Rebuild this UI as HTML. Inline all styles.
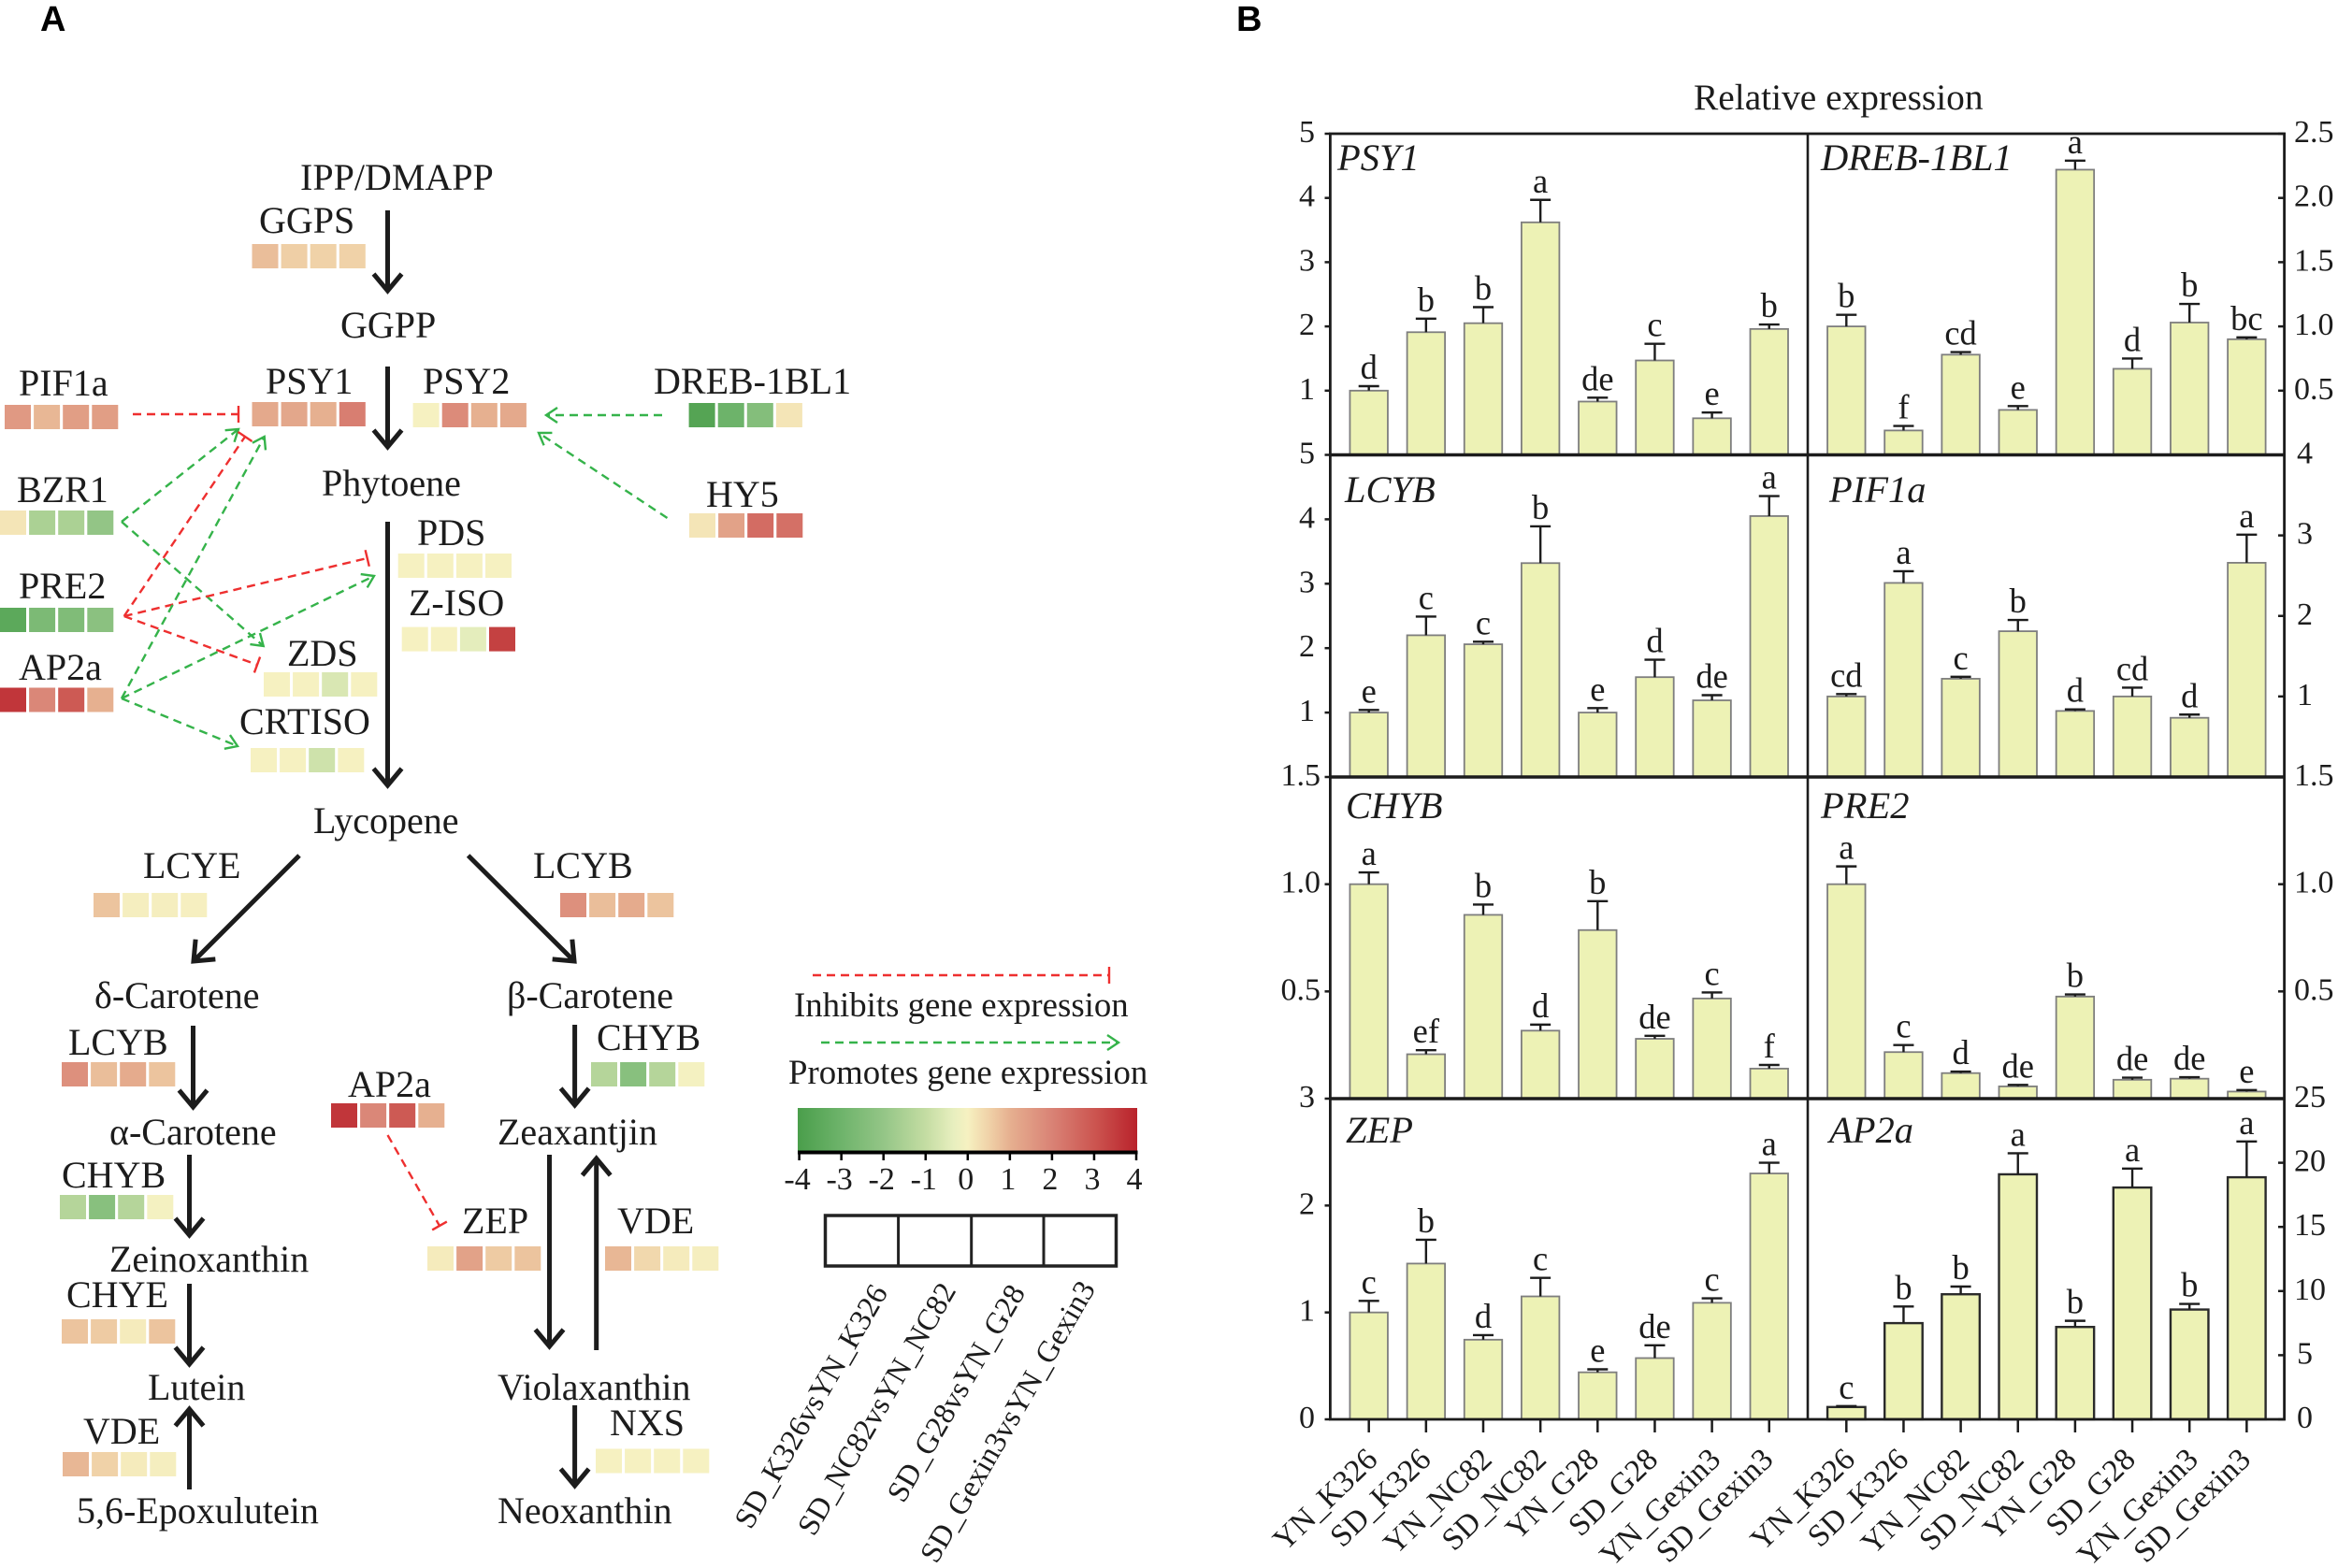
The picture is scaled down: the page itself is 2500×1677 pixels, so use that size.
<!DOCTYPE html>
<html lang="en">
<head>
<meta charset="utf-8">
<title>Carotenoid pathway and relative expression</title>
<style>
html,body{margin:0;padding:0;background:#fff;}
svg{display:block;}
text{font-family:"Liberation Serif","Times New Roman",serif;fill:#1c1c1c;}
.lbl{font-size:40px;}
.leg{font-size:36.8px;}
.num{font-size:34px;}
.rot{font-size:32.5px;}
.hd{font-family:"Liberation Sans",Arial,sans-serif;font-weight:bold;font-size:38px;fill:#000;}
.flow{stroke:#1c1c1c;stroke-width:5;fill:none;marker-end:url(#chev);}
.gd{stroke:#35b34a;stroke-width:2.4;stroke-dasharray:9 6;fill:none;marker-end:url(#ga);}
.rd{stroke:#ee2f2f;stroke-width:2.4;stroke-dasharray:9 6;fill:none;marker-end:url(#rt);}
</style>
</head>
<body>
<svg id="fig" xmlns="http://www.w3.org/2000/svg" width="2500" height="1677" viewBox="0 0 2500 1677">
<defs>
<marker id="chev" markerUnits="userSpaceOnUse" markerWidth="50" markerHeight="50" refX="25" refY="25" orient="auto" viewBox="0 0 50 50"><path d="M7,10 L25,25 L7,40" fill="none" stroke="#1c1c1c" stroke-width="5"/></marker>
<marker id="ga" markerUnits="userSpaceOnUse" markerWidth="30" markerHeight="30" refX="15" refY="15" orient="auto" viewBox="0 0 30 30"><path d="M3,7 L15,15 L3,23" fill="none" stroke="#35b34a" stroke-width="2.4"/></marker>
<marker id="rt" markerUnits="userSpaceOnUse" markerWidth="30" markerHeight="30" refX="15" refY="15" orient="auto" viewBox="0 0 30 30"><path d="M15,6 L15,24" fill="none" stroke="#ee2f2f" stroke-width="2.4"/></marker>
<linearGradient id="cbar" x1="0" y1="0" x2="1" y2="0">
<stop offset="0" stop-color="#4a9e4b"/><stop offset=".125" stop-color="#6db36a"/><stop offset=".25" stop-color="#93c586"/><stop offset=".375" stop-color="#c3dca2"/><stop offset=".46" stop-color="#e8efbf"/><stop offset=".5" stop-color="#f6f1c1"/><stop offset=".5625" stop-color="#f0d2a8"/><stop offset=".625" stop-color="#e6b090"/><stop offset=".75" stop-color="#d98275"/><stop offset=".875" stop-color="#cc5550"/><stop offset="1" stop-color="#b9222b"/>
</linearGradient>
</defs>

<text class="hd" x="43" y="33">A</text>
<text class="hd" x="1322" y="33">B</text>

<g>
<text class="lbl" x="321" y="203">IPP/DMAPP</text>
<text class="lbl" x="277" y="249">GGPS</text>
<text class="lbl" x="364" y="361">GGPP</text>
<text class="lbl" x="284" y="421">PSY1</text>
<text class="lbl" x="452" y="421">PSY2</text>
<text class="lbl" x="20" y="423">PIF1a</text>
<text class="lbl" x="699" y="421">DREB-1BL1</text>
<text class="lbl" x="18" y="537">BZR1</text>
<text class="lbl" x="755" y="542">HY5</text>
<text class="lbl" x="344" y="530">Phytoene</text>
<text class="lbl" x="446" y="583">PDS</text>
<text class="lbl" x="437" y="658">Z-ISO</text>
<text class="lbl" x="20" y="640">PRE2</text>
<text class="lbl" x="307" y="712">ZDS</text>
<text class="lbl" x="20" y="727">AP2a</text>
<text class="lbl" x="256" y="785">CRTISO</text>
<text class="lbl" x="335" y="891">Lycopene</text>
<text class="lbl" x="153" y="939">LCYE</text>
<text class="lbl" x="570" y="939">LCYB</text>
<text class="lbl" x="101" y="1078">δ-Carotene</text>
<text class="lbl" x="542" y="1078">β-Carotene</text>
<text class="lbl" x="73" y="1128">LCYB</text>
<text class="lbl" x="638" y="1123">CHYB</text>
<text class="lbl" x="372" y="1173">AP2a</text>
<text class="lbl" x="117" y="1224">α-Carotene</text>
<text class="lbl" x="532" y="1224">Zeaxantjin</text>
<text class="lbl" x="66" y="1270">CHYB</text>
<text class="lbl" x="494" y="1319">ZEP</text>
<text class="lbl" x="660" y="1319">VDE</text>
<text class="lbl" x="117" y="1360">Zeinoxanthin</text>
<text class="lbl" x="71" y="1398">CHYE</text>
<text class="lbl" x="158" y="1497">Lutein</text>
<text class="lbl" x="532" y="1497">Violaxanthin</text>
<text class="lbl" x="89" y="1544">VDE</text>
<text class="lbl" x="652" y="1535">NXS</text>
<text class="lbl" x="82" y="1629">5,6-Epoxulutein</text>
<text class="lbl" x="532" y="1629">Neoxanthin</text>
</g>

<g>
<line class="flow" x1="414.5" y1="225" x2="414.5" y2="311"/>
<line class="flow" x1="414.5" y1="392" x2="414.5" y2="478"/>
<line class="flow" x1="414.5" y1="558" x2="414.5" y2="840"/>
<line class="flow" x1="320" y1="915" x2="207" y2="1028"/>
<line class="flow" x1="500.6" y1="915" x2="614" y2="1028"/>
<line class="flow" x1="206.5" y1="1097" x2="206.5" y2="1184"/>
<line class="flow" x1="614.6" y1="1096" x2="614.6" y2="1182"/>
<line class="flow" x1="202.5" y1="1235" x2="202.5" y2="1321"/>
<line class="flow" x1="202.5" y1="1373" x2="202.5" y2="1459"/>
<line class="flow" x1="202.5" y1="1593" x2="202.5" y2="1507"/>
<line class="flow" x1="587.5" y1="1235" x2="587.5" y2="1440"/>
<line class="flow" x1="637.7" y1="1444" x2="637.7" y2="1239"/>
<line class="flow" x1="614.6" y1="1503" x2="614.6" y2="1589"/>
</g>

<g>
<line class="rd" x1="142" y1="443" x2="255" y2="443"/>
<line class="gd" x1="708" y1="444" x2="584" y2="444"/>
<line class="gd" x1="713.5" y1="554" x2="576" y2="463"/>
<line class="gd" x1="130" y1="558" x2="255" y2="459"/>
<line class="gd" x1="130" y1="558" x2="281.7" y2="691"/>
<line class="rd" x1="132.7" y1="659" x2="262" y2="467"/>
<line class="rd" x1="132.7" y1="659" x2="392.7" y2="597"/>
<line class="rd" x1="132.7" y1="659" x2="275" y2="711"/>
<line class="gd" x1="130" y1="747" x2="282.7" y2="467"/>
<line class="gd" x1="130" y1="747" x2="400" y2="616"/>
<line class="gd" x1="130" y1="747" x2="254" y2="798"/>
<line class="rd" x1="414.5" y1="1214" x2="470" y2="1311"/>
</g>

<g id="heat-strips"></g>

<g>
<line class="rd" x1="869" y1="1043" x2="1186" y2="1043"/>
<text class="leg" x="849" y="1087">Inhibits gene expression</text>
<line class="gd" x1="878" y1="1115" x2="1196" y2="1115"/>
<text class="leg" x="843" y="1159">Promotes gene expression</text>
<rect x="853" y="1185" width="363" height="47" fill="url(#cbar)"/>
<g id="color-axis"></g>
<g>
<rect x="882.5" y="1300" width="311" height="54" fill="none" stroke="#222" stroke-width="3.5"/>
<line x1="960.6" y1="1300" x2="960.6" y2="1354" stroke="#222" stroke-width="3"/>
<line x1="1038.7" y1="1300" x2="1038.7" y2="1354" stroke="#222" stroke-width="3"/>
<line x1="1116" y1="1300" x2="1116" y2="1354" stroke="#222" stroke-width="3"/>
</g>
<text class="rot" text-anchor="end" transform="translate(950 1382) rotate(-60)">SD_K326vsYN_K326</text>
<text class="rot" text-anchor="end" transform="translate(1023 1380) rotate(-60)">SD_NC82vsYN_NC82</text>
<text class="rot" text-anchor="end" transform="translate(1097 1382) rotate(-60)">SD_G28vsYN_G28</text>
<text class="rot" text-anchor="end" transform="translate(1172 1378) rotate(-60)">SD_Gexin3vsYN_Gexin3</text>
</g>

<text x="1811" y="117" font-size="39.4">Relative expression</text>
<g id="panels"></g>
</svg>

<script>
// ---------- bar chart data ----------
const categories = ["YN_K326","SD_K326","YN_NC82","SD_NC82","YN_G28","SD_G28","YN_Gexin3","SD_Gexin3"];

const psy1Values = [1.0,1.91,2.05,3.62,0.83,1.47,0.57,1.96];
const psy1Errors = [0.07,0.21,0.25,0.35,0.06,0.26,0.09,0.07];
const psy1Letters = ["d","b","b","a","de","c","e","b"];
const psy1Ticks = ["5","4","3","2","1"];

const drebValues = [1.0,0.19,0.78,0.35,2.22,0.67,1.03,0.90];
const drebErrors = [0.09,0.035,0.02,0.03,0.07,0.08,0.145,0.015];
const drebLetters = ["b","f","cd","e","a","d","b","bc"];
const drebTicks = ["2.5","2.0","1.5","1.0","0.5"];

const lcybValues = [1.0,2.2,2.06,3.32,1.0,1.55,1.19,4.05];
const lcybErrors = [0.04,0.29,0.04,0.57,0.07,0.27,0.08,0.31];
const lcybLetters = ["e","c","c","b","e","d","de","a"];
const lcybTicks = ["5","4","3","2","1"];

const pif1aValues = [1.0,2.41,1.22,1.81,0.82,1.0,0.735,2.66];
const pif1aErrors = [0.03,0.145,0.025,0.14,0.02,0.11,0.04,0.35];
const pif1aLetters = ["cd","a","c","b","d","cd","d","a"];
const pif1aTicks = ["4","3","2","1"];

const chybValues = [1.0,0.207,0.857,0.317,0.786,0.279,0.467,0.14];
const chybErrors = [0.055,0.019,0.048,0.028,0.135,0.014,0.028,0.017];
const chybLetters = ["a","ef","b","d","b","de","c","f"];
const chybTicks = ["1.5","1.0","0.5"];

const pre2Values = [1.0,0.217,0.119,0.057,0.476,0.088,0.093,0.033];
const pre2Errors = [0.083,0.033,0.007,0.007,0.01,0.01,0.007,0.007];
const pre2Letters = ["a","c","d","de","b","de","de","e"];
const pre2Ticks = ["1.5","1.0","0.5"];

const zepValues = [1.0,1.457,0.745,1.15,0.44,0.573,1.09,2.3];
const zepErrors = [0.108,0.223,0.043,0.173,0.028,0.12,0.042,0.1];
const zepLetters = ["c","b","d","c","e","de","c","a"];
const zepTicks = ["3","2","1","0"];

const ap2aValues = [0.96,7.5,9.75,19.1,7.2,18.07,8.56,18.87];
const ap2aErrors = [0.07,1.3,0.6,1.64,0.48,1.48,0.44,2.79];
const ap2aLetters = ["c","b","b","a","b","a","b","a"];
const ap2aTicks = ["25","20","15","10","5","0"];

// ---------- heat strip data: log2 fold change per comparison ----------
const colorTicks = [-4,-3,-2,-1,0,1,2,3,4];
const ggpsCells = [0.8,0.55,0.5,0.5];
const psy1Cells = [1.15,1.2,1.0,2.1];
const psy2Cells = [0,1.8,1.0,1.15];
const pif1aCells = [1.5,0.9,1.4,1.4];
const drebCells = [-3.7,-3,-2.4,0.2];
const bzr1Cells = [0.2,-1.5,-1.5,-2];
const hy5Cells = [0.2,1.3,2.5,2.4];
const pdsCells = [0,0,0,0];
const zisoCells = [0,0,-0.4,3.4];
const pre2Cells = [-3.5,-2.6,-2.5,-2.2];
const zdsCells = [0,0,-0.6,0];
const ap2aCells = [3.6,1.9,2.9,1.0];
const crtisoCells = [0,0,-0.8,0];
const lcyeCells = [0.7,0.05,0.05,0.03];
const lcybCells = [1.7,0.8,1.1,0.7];
const chybCells = [-1.3,-2.3,-1.3,-0.05];
const zepCells = [0.1,1.3,0.6,0.7];
const vdeRightCells = [0.9,0.4,0.1,0.05];
const chyeCells = [0.7,0.6,0.1,0.7];
const vdeLeftCells = [0.9,0.5,0.1,0.05];
const nxsCells = [0,0,0,0];

// ---------- layout ----------
const NS = "http://www.w3.org/2000/svg";
function mk(parent, tag, attrs, txt){
  const el = document.createElementNS(NS, tag);
  for (const k in attrs) el.setAttribute(k, attrs[k]);
  if (txt !== undefined) el.textContent = txt;
  parent.appendChild(el);
  return el;
}

const colorStops = [[-4,74,158,75],[-3,109,179,106],[-2,147,197,134],[-1,195,220,162],[-0.32,232,239,191],[0,246,241,193],[0.5,240,210,168],[1,230,176,144],[2,217,130,117],[3,204,85,80],[4,185,34,43]];
function heatColor(v){
  v = Math.max(-4, Math.min(4, v));
  for (let i = 1; i < colorStops.length; i++){
    const a = colorStops[i-1], b = colorStops[i];
    if (v <= b[0]){
      const t = (v - a[0]) / (b[0] - a[0]);
      return "rgb(" + [1,2,3].map(j => Math.round(a[j] + (b[j]-a[j])*t)).join(",") + ")";
    }
  }
  return "#b9222b";
}

const strips = [
  {id:"ggps", x:269.5, y:261, v:ggpsCells},
  {id:"psy1", x:269.5, y:430, v:psy1Cells},
  {id:"psy2", x:441.6, y:431, v:psy2Cells},
  {id:"pif1a", x:5, y:433, v:pif1aCells},
  {id:"dreb", x:736.6, y:431, v:drebCells},
  {id:"bzr1", x:0, y:546, v:bzr1Cells},
  {id:"hy5", x:737, y:549, v:hy5Cells},
  {id:"pds", x:425.7, y:592, v:pdsCells},
  {id:"z-iso", x:429.7, y:670.6, v:zisoCells},
  {id:"pre2", x:0, y:650, v:pre2Cells},
  {id:"zds", x:282, y:719, v:zdsCells},
  {id:"ap2a", x:0, y:735.5, v:ap2aCells},
  {id:"crtiso", x:268, y:800, v:crtisoCells},
  {id:"lcye", x:100, y:955, v:lcyeCells},
  {id:"lcyb-right", x:599, y:955, v:lcybCells},
  {id:"lcyb-left", x:66, y:1136, v:lcybCells},
  {id:"chyb-right", x:632, y:1136, v:chybCells},
  {id:"ap2a-zep", x:354, y:1180, v:ap2aCells},
  {id:"chyb-left", x:64, y:1278, v:chybCells},
  {id:"zep", x:457, y:1333, v:zepCells},
  {id:"vde-right", x:647, y:1333, v:vdeRightCells},
  {id:"chye", x:66, y:1411, v:chyeCells},
  {id:"vde-left", x:67, y:1553, v:vdeLeftCells},
  {id:"nxs", x:637, y:1549.5, v:nxsCells}
];
const stripRoot = document.getElementById("heat-strips");
strips.forEach(s => {
  s.v.forEach((val, i) => {
    const c = mk(stripRoot, "rect", {x:s.x + i*31.1, y:s.y, width:28, height:26, fill:heatColor(val)});
    
    
  });
});

// colour-scale axis
const colorAxis = document.getElementById("color-axis");
function colorX(v){ return 854.6 + (v + 4) / 8 * 360.4; }
const axisLine = mk(colorAxis, "line", {x1:853, x2:1216.5, y1:1232.5, y2:1232.5, stroke:"#000", "stroke-width":4});


colorTicks.forEach(t => {
  const m = mk(colorAxis, "line", {x1:colorX(t), x2:colorX(t), y1:1232, y2:1241, stroke:"#000", "stroke-width":2.5});
  
  
  const l = mk(colorAxis, "text", {x:colorX(t)-2, y:1272, "text-anchor":"middle", "font-size":34}, String(t));
  
  
});

// bar panels
const panels = [
  {id:"psy1", name:"PSY1", nx:1430, ny:182, x0:1422.4, top:143, bottom:486.5, max:5, side:"left", values:psy1Values, errors:psy1Errors, letters:psy1Letters, ticks:psy1Ticks},
  {id:"dreb-1bl1", name:"DREB-1BL1", nx:1947, ny:182, x0:1933, top:143, bottom:486.5, max:2.5, side:"right", values:drebValues, errors:drebErrors, letters:drebLetters, ticks:drebTicks},
  {id:"lcyb", name:"LCYB", nx:1438, ny:537, x0:1422.4, top:486.5, bottom:831, max:5, side:"left", values:lcybValues, errors:lcybErrors, letters:lcybLetters, ticks:lcybTicks},
  {id:"pif1a", name:"PIF1a", nx:1956, ny:537, x0:1933, top:486.5, bottom:831, max:4, side:"right", values:pif1aValues, errors:pif1aErrors, letters:pif1aLetters, ticks:pif1aTicks},
  {id:"chyb", name:"CHYB", nx:1439, ny:875, x0:1422.4, top:831, bottom:1175, max:1.5, side:"left", values:chybValues, errors:chybErrors, letters:chybLetters, ticks:chybTicks},
  {id:"pre2", name:"PRE2", nx:1947, ny:875, x0:1933, top:831, bottom:1175, max:1.5, side:"right", values:pre2Values, errors:pre2Errors, letters:pre2Letters, ticks:pre2Ticks},
  {id:"zep", name:"ZEP", nx:1439, ny:1222, x0:1422.4, top:1175, bottom:1518, max:3, side:"left", values:zepValues, errors:zepErrors, letters:zepLetters, ticks:zepTicks, xlabels:true},
  {id:"ap2a", name:"AP2a", nx:1956, ny:1222, x0:1933, top:1175, bottom:1518, max:25, side:"right", values:ap2aValues, errors:ap2aErrors, letters:ap2aLetters, ticks:ap2aTicks, xlabels:true, dark:true}
];
const step = 61.15, barW = 40.5, firstOffset = 41.3;
const labelNudge = [11,7,11,8,3,5,11,6];
const panelRoot = document.getElementById("panels");

panels.forEach(p => {
  const g = mk(panelRoot, "g", {});
  
  
  const xPos = i => p.x0 + firstOffset + i * step;
  const yPos = v => p.bottom - v / p.max * (p.bottom - p.top);

  p.values.forEach((val, i) => {
    const cx = xPos(i), yTop = yPos(val), yErr = yPos(val + p.errors[i]);
    const bar = mk(g, "rect", {x:cx - barW/2, y:yTop, width:barW, height:p.bottom - yTop, fill:"#edf2b5", stroke:p.dark ? "#2a2a2a" : "#7e7e7e", "stroke-width":p.dark ? 2.4 : 1.8});
    
    
    const eb = mk(g, "path", {d:"M" + cx + "," + yTop + "V" + yErr + "M" + (cx-11) + "," + yErr + "H" + (cx+11), fill:"none", stroke:"#1c1c1c", "stroke-width":2.4});
    
    
    const lt = mk(g, "text", {x:cx, y:yErr - 8, "text-anchor":"middle", "font-size":36.5}, p.letters[i]);
    
    
    if (p.xlabels){
      const tk = mk(g, "line", {x1:cx, x2:cx, y1:p.bottom, y2:p.bottom + 14, stroke:"#1c1c1c", "stroke-width":2.5});
      
      
      const xl = mk(g, "text", {"text-anchor":"end", "font-size":33.5, transform:"translate(" + (cx + labelNudge[i]) + " 1563) rotate(-44)"}, categories[i]);
      
      
    }
  });

  const nm = mk(g, "text", {x:p.nx, y:p.ny, "font-size":40.5, "font-style":"italic"}, p.name);
  
  

  p.ticks.forEach(t => {
    const y = yPos(parseFloat(t));
    if (p.side === "left"){
      const m = mk(g, "line", {x1:1416.5, x2:1422.4, y1:y, y2:y, stroke:"#1c1c1c", "stroke-width":2.5});
      
      
      const l = mk(g, "text", {x:t.length > 1 ? 1412 : 1406, y:y + 9, "text-anchor":"end", class:"num"}, t);
      
      
    } else {
      const m = mk(g, "line", {x1:2436, x2:2442.6, y1:y, y2:y, stroke:"#1c1c1c", "stroke-width":2.5});
      
      
      const l = mk(g, "text", {x:t.length === 1 ? 2456 : 2453, y:y + 9, class:"num"}, t);
      
      
    }
  });
});

// frame drawn over the bars
const frame = mk(panelRoot, "g", {});


const outer = mk(frame, "rect", {x:1422.4, y:143, width:1020.2, height:1375, fill:"none", stroke:"#1c1c1c", "stroke-width":2.8});


const mid = mk(frame, "line", {x1:1933, x2:1933, y1:143, y2:1518, stroke:"#1c1c1c", "stroke-width":2.6});


[486.5, 831, 1175].forEach(y => {
  const h = mk(frame, "line", {x1:1422.4, x2:2442.6, y1:y, y2:y, stroke:"#1c1c1c", "stroke-width":3.6});
  
  
});
</script>
</body>
</html>
